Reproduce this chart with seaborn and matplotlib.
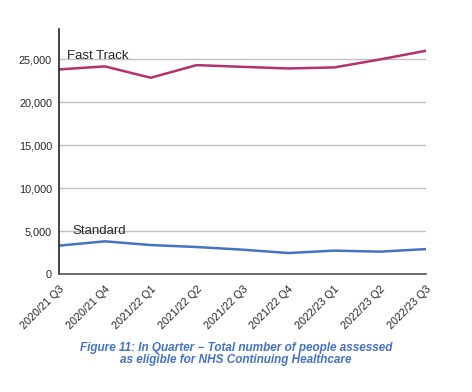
import numpy as np
import pandas as pd
import matplotlib
matplotlib.use("Agg")
import matplotlib.pyplot as plt
import seaborn as sns
from matplotlib.ticker import FuncFormatter

quarters = ["2020/21 Q3", "2020/21 Q4", "2021/22 Q1", "2021/22 Q2", "2021/22 Q3",
            "2021/22 Q4", "2022/23 Q1", "2022/23 Q2", "2022/23 Q3"]
fast_track = [23800, 24150, 22830, 24300, 24100, 23910, 24030, 24960, 25970]
standard = [3300, 3800, 3370, 3140, 2830, 2440, 2720, 2600, 2900]

df = pd.DataFrame({"quarter": quarters * 2,
                   "people": fast_track + standard,
                   "pathway": ["Fast Track"] * 9 + ["Standard"] * 9})
df["pos"] = list(range(9)) * 2

sns.set_style("white")
plt.rcParams["font.family"] = ["Liberation Sans", "DejaVu Sans"]

fig = plt.figure(figsize=(4.72, 3.92), dpi=100)
ax = fig.add_axes([0.125, 0.301, 0.7775, 0.625])

sns.lineplot(data=df, x="pos", y="people", hue="pathway",
             palette={"Fast Track": "#b5306f", "Standard": "#4472c4"},
             linewidth=1.8, legend=False, ax=ax)

ax.set_xlim(0, 8)
ax.set_ylim(0, 28500)
ax.set_yticks([0, 5000, 10000, 15000, 20000, 25000])
ax.yaxis.set_major_formatter(FuncFormatter(lambda v, p: f"{int(v):,}"))
ax.set_xticks(range(9))
ax.set_xticklabels(quarters, rotation=45, ha="right", rotation_mode="anchor", fontsize=7.8)
ax.tick_params(axis="y", labelsize=7.8, length=3, color="#333333", pad=2)
ax.tick_params(axis="x", length=4, color="#555555", pad=3)
ax.yaxis.grid(True, color="#c0c0c0", linewidth=1)
ax.xaxis.grid(False)
ax.set_axisbelow(True)
ax.set_xlabel("")
ax.set_ylabel("")
for s in ["top", "right"]:
    ax.spines[s].set_visible(False)
ax.spines["left"].set_color("#222222")
ax.spines["bottom"].set_color("#555555")
ax.spines["left"].set_linewidth(1.2)
ax.spines["bottom"].set_linewidth(1.2)

ax.text(0.17, 25350, "Fast Track", fontsize=9.5, va="center", ha="left")
ax.text(0.3, 4970, "Standard", fontsize=9.5, va="center", ha="left")

fig.text(0.5, 0.097, "Figure 11: In Quarter \u2212 Total number of people assessed\nas eligible for NHS Continuing Healthcare",
         ha="center", va="center", fontsize=8.5, color="#4472c4",
         fontweight="bold", fontstyle="italic", linespacing=1.05)

fig.savefig("out.png", dpi=100)
